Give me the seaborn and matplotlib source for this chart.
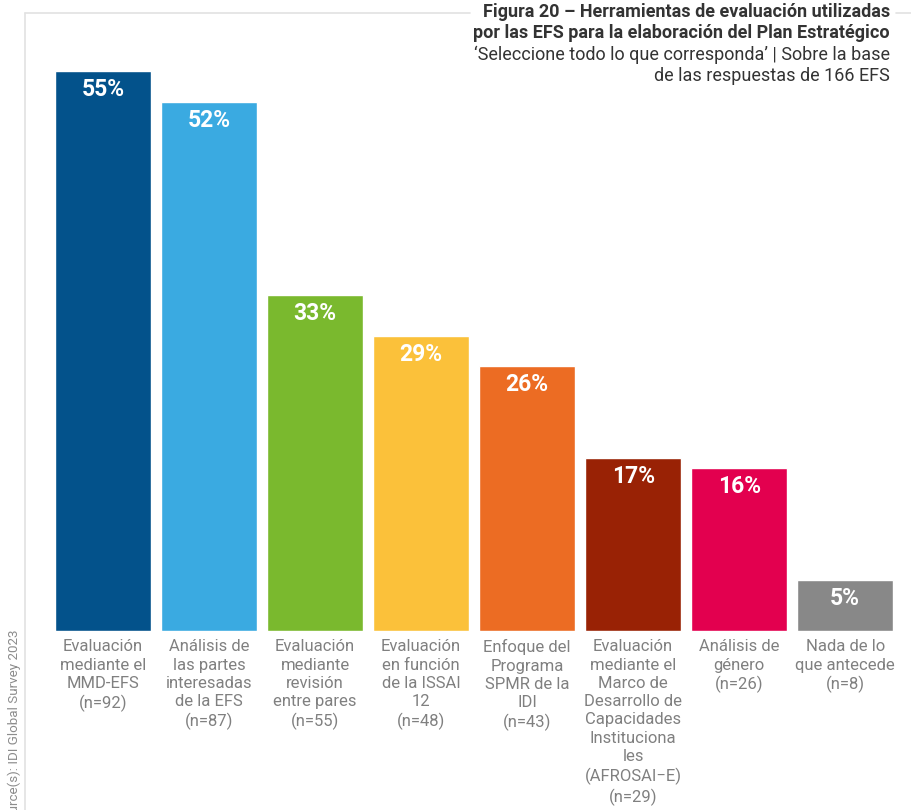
import matplotlib
matplotlib.use("Agg")
import matplotlib.pyplot as plt
from matplotlib.lines import Line2D
import seaborn as sns
import pandas as pd

categories = [
    "Evaluación\nmediante el\nMMD-EFS\n(n=92)",
    "Análisis de\nlas partes\ninteresadas\nde la EFS\n(n=87)",
    "Evaluación\nmediante\nrevisión\nentre pares\n(n=55)",
    "Evaluación\nen función\nde la ISSAI\n12\n(n=48)",
    "Enfoque del\nPrograma\nSPMR de la\nIDI\n(n=43)",
    "Evaluación\nmediante el\nMarco de\nDesarrollo de\nCapacidades\nInstituciona\nles\n(AFROSAI\u2212E)\n(n=29)",
    "Análisis de\ngénero\n(n=26)",
    "Nada de lo\nque antecede\n(n=8)",
]
percent = [55, 52, 33, 29, 26, 17, 16, 5]
colors = ["#03528B", "#3AAAE1", "#7AB92E", "#FBC13A",
          "#EC6C23", "#992205", "#E3004F", "#888888"]

title_bold = "Figura 20 \u2013 Herramientas de evaluación utilizadas\npor las EFS para la elaboración del Plan Estratégico"
subtitle = "\u2018Seleccione todo lo que corresponda\u2019 | Sobre la base\nde las respuestas de 166 EFS"
source = "Source(s): IDI Global Survey 2023"

sns.set_theme(style="white")
plt.rcParams["font.family"] = ["Roboto", "DejaVu Sans"]

df = pd.DataFrame({"cat": categories, "pct": percent})

W, H = 912, 810
fig = plt.figure(figsize=(W / 100, H / 100), dpi=100)
ax = fig.add_axes([25 / W, (H - 631) / H, (W - 25) / W, (631 - 13) / H])

sns.barplot(data=df, x="cat", y="pct", hue="cat", palette=colors,
            legend=False, width=0.906, saturation=1, ax=ax)

ax.set_xlim(-0.736, 7.63)
ax.set_ylim(0, 60.7)
for s in ax.spines.values():
    s.set_visible(False)
ax.set_yticks([])
ax.set_xlabel("")
ax.set_ylabel("")
ax.tick_params(axis="x", length=0, pad=6, labelsize=12, labelcolor="#808080")
for lbl in ax.get_xticklabels():
    lbl.set_linespacing(1.27)
    lbl.set_verticalalignment("top")

for i, v in enumerate(percent):
    ax.text(i, v - 0.7, f"{v}%", ha="center", va="top", color="white",
            fontsize=16.5, fontweight="bold")

# frame lines
fc = "#e2e2e2"
fig.add_artist(Line2D([25 / W, 25 / W], [0, (H - 13) / H], color=fc, lw=1.2))
fig.add_artist(Line2D([25 / W, 470 / W], [(H - 13) / H] * 2, color=fc, lw=1.2))
fig.add_artist(Line2D([896 / W, 1], [(H - 13) / H] * 2, color=fc, lw=1.2))

fig.text(890 / W, (H - 3) / H, title_bold, ha="right", va="top",
         fontsize=13, fontweight="bold", color="#333333", linespacing=1.2)
fig.text(890 / W, (H - 46) / H, subtitle, ha="right", va="top",
         fontsize=13, color="#333333", linespacing=1.2)

fig.text(14 / W, (H - 630) / H, source, rotation=90, rotation_mode="anchor",
         ha="right", va="center", fontsize=9.6, color="#8c8c8c")

fig.savefig("out.png", dpi=100)
